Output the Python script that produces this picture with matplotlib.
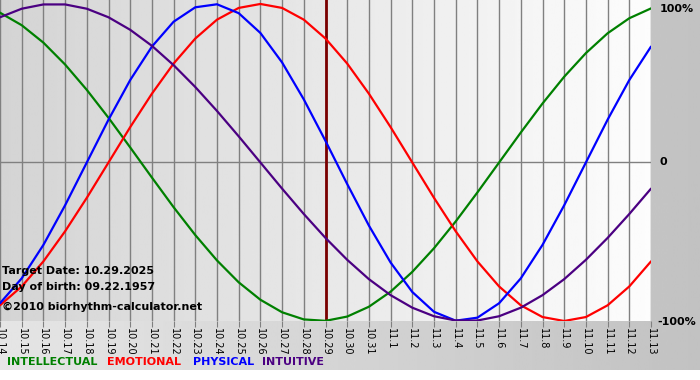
import matplotlib
matplotlib.use("Agg")
import matplotlib.pyplot as plt
import numpy as np

# ----- data -----
day_labels = ["10.14", "10.15", "10.16", "10.17", "10.18", "10.19", "10.20", "10.21",
              "10.22", "10.23", "10.24", "10.25", "10.26", "10.27", "10.28", "10.29",
              "10.30", "10.31", "11.1", "11.2", "11.3", "11.4", "11.5", "11.6",
              "11.7", "11.8", "11.9", "11.10", "11.11", "11.12", "11.13"]

intellectual = [0.945, 0.866, 0.756, 0.618, 0.458, 0.282, 0.095, -0.095, -0.282, -0.458,
                -0.618, -0.756, -0.866, -0.945, -0.990, -0.999, -0.972, -0.910, -0.815, -0.690,
                -0.541, -0.372, -0.189, 0.0, 0.189, 0.372, 0.541, 0.690, 0.815, 0.910, 0.972]

emotional = [-0.901, -0.782, -0.624, -0.434, -0.223, 0.0, 0.223, 0.434, 0.624, 0.782,
             0.901, 0.975, 1.0, 0.975, 0.901, 0.782, 0.624, 0.434, 0.223, 0.0,
             -0.223, -0.434, -0.624, -0.782, -0.901, -0.975, -1.0, -0.975, -0.901, -0.782, -0.624]

physical = [-0.888, -0.731, -0.520, -0.270, 0.0, 0.270, 0.520, 0.731, 0.888, 0.979,
            0.998, 0.942, 0.817, 0.631, 0.398, 0.136, -0.136, -0.398, -0.631, -0.817,
            -0.942, -0.998, -0.979, -0.888, -0.731, -0.520, -0.270, 0.0, 0.270, 0.520, 0.731]

intuitive = [0.916, 0.970, 0.997, 0.997, 0.970, 0.916, 0.837, 0.736, 0.614, 0.476,
             0.325, 0.165, 0.0, -0.165, -0.325, -0.476, -0.614, -0.736, -0.837, -0.916,
             -0.970, -0.997, -0.997, -0.970, -0.916, -0.837, -0.736, -0.614, -0.476, -0.325, -0.165]

target_index = 15  # 10.29
target_date = "10.29.2025"
birth_date = "09.22.1957"

series = [("INTELLECTUAL", intellectual, "#008000"),
          ("EMOTIONAL", emotional, "#ff0000"),
          ("PHYSICAL", physical, "#0000ff"),
          ("INTUITIVE", intuitive, "#4b0082")]

W, H = 700, 380
fig = plt.figure(figsize=(W / 100, H / 100), dpi=100)
fig.patch.set_facecolor("white")

# outer grey background (gradient, left light -> right darker)
bg = fig.add_axes([0, 10 / H, 1, 370 / H])
bg.imshow(np.linspace(0.90, 0.76, 256).reshape(1, -1), cmap="gray", vmin=0, vmax=1,
          aspect="auto", extent=[0, 1, 0, 1])
bg.set_axis_off()

# plot area
ax = fig.add_axes([0, (H - 321) / H, 651 / W, 321 / H])
ax.set_zorder(2)
n = len(day_labels)
x = np.arange(n)
ax.imshow(np.linspace(0.83, 0.99, 256).reshape(1, -1), cmap="gray", vmin=0, vmax=1,
          aspect="auto", extent=[0, 1, 0, 1], transform=ax.transAxes, zorder=0)

ax.set_xlim(0, n - 1)
ax.set_ylim(-1.0, 1.025)

for i in x:
    ax.axvline(i, color="#808080", lw=1.0, zorder=1)
ax.axhline(0, color="#808080", lw=1.0, zorder=1)

ax.axvline(target_index, color="#7a0000", lw=2.0, zorder=2)

for name, vals, col in series:
    ax.plot(x, vals, color=col, lw=1.6, zorder=3, solid_capstyle="round")

for s in ax.spines.values():
    s.set_visible(False)

ax.set_xticks(x)
ax.set_xticklabels(day_labels, rotation=270, fontsize=7)
ax.tick_params(axis="x", length=4, color="#808080", pad=1)
ax.set_yticks([])

# right side scale labels
for ypix, xpix, lab in [(9, 660, "100%"), (162, 660, "0"), (322, 657, "-100%")]:
    fig.text(xpix / W, 1 - ypix / H, lab, fontsize=8, fontweight="bold",
             va="center", ha="left")

# info text
fig.text(2 / W, 1 - 271 / H, "Target Date: " + target_date, fontsize=8, fontweight="bold",
         va="center", ha="left", zorder=5)
fig.text(2 / W, 1 - 287 / H, "Day of birth: " + birth_date, fontsize=8, fontweight="bold",
         va="center", ha="left", zorder=5)
fig.text(2 / W, 1 - 307 / H, "\u00a92010 biorhythm-calculator.net", fontsize=8,
         fontweight="bold", va="center", ha="left", zorder=5)

# colored legend words
legend_x = [7, 107, 193, 262]
for (name, vals, col), lx in zip(series, legend_x):
    fig.text(lx / W, 1 - 362 / H, name, color=col, fontsize=8, fontweight="bold",
             va="center", ha="left")

fig.savefig("out.png", dpi=100)
